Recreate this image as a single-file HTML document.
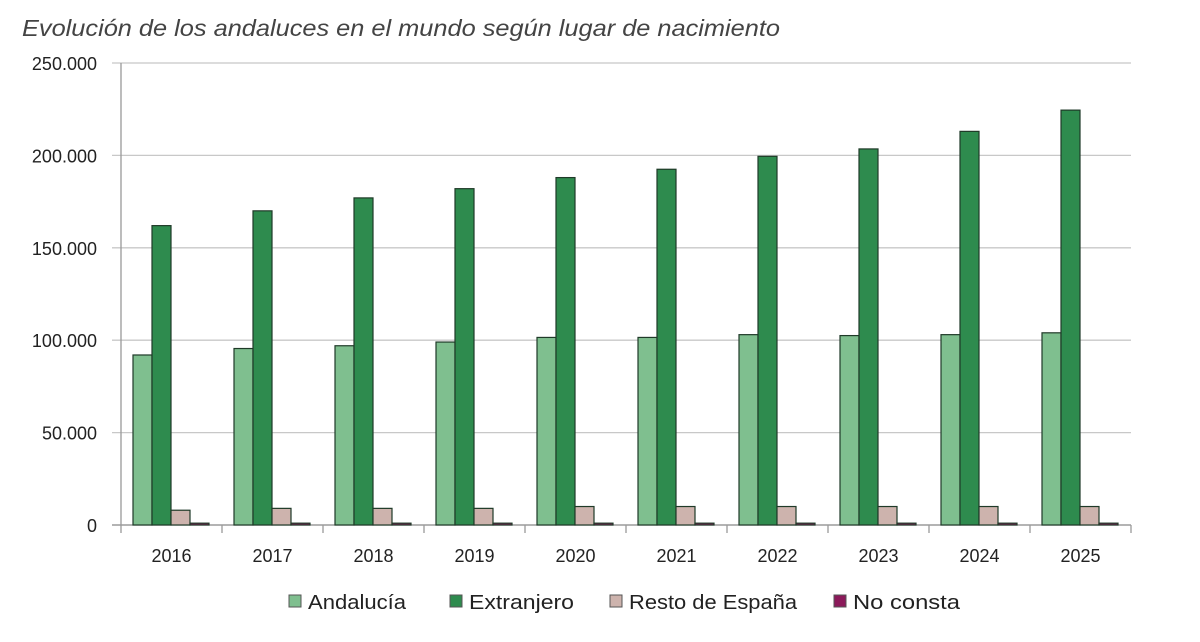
<!DOCTYPE html>
<html><head><meta charset="utf-8"><style>
body{margin:0;background:#fff;width:1200px;height:637px;overflow:hidden;font-family:"Liberation Sans",sans-serif}
</style></head><body>
<svg id="chart" width="1200" height="637">
<text x="22" y="36" font-size="23" font-style="italic" fill="#444" textLength="758" lengthAdjust="spacingAndGlyphs">Evolución de los andaluces en el mundo según lugar de nacimiento</text>
<g id="grid"></g><g id="bars"></g><g id="axes"></g><g id="legend"></g>
</svg>
<script>
const years=["2016","2017","2018","2019","2020","2021","2022","2023","2024","2025"];
const andalucia=[92000,95500,97000,99000,101500,101500,103000,102500,103000,104000];
const extranjero=[162000,170000,177000,182000,188000,192500,199500,203500,213000,224500];
const resto=[8000,9000,9000,9000,10000,10000,10000,10000,10000,10000];
const noConsta=[1000,1000,1000,1000,1000,1000,1000,1000,1000,1000];
const yTicks=[0,50000,100000,150000,200000,250000];
const yTickLabels=["0","50.000","100.000","150.000","200.000","250.000"];
const seriesNames=["Andalucía","Extranjero","Resto de España","No consta"];
const colors=["#7fbf8f","#2e8b4e","#cdb3ad","#8b1a5a"];
const NS="http://www.w3.org/2000/svg";
const x0=121,x1=1131,yBase=525,yTop=63,yMax=250000;
const gw=(x1-x0)/years.length;
const y=v=>yBase-(v/yMax)*(yBase-yTop);
const xg=i=>x0+i*gw;
function mk(t,a,p){const e=document.createElementNS(NS,t);for(const k in a)e.setAttribute(k,a[k]);p.appendChild(e);return e;}
const grid=document.getElementById('grid'),bars=document.getElementById('bars'),axes=document.getElementById('axes'),leg=document.getElementById('legend');
yTicks.forEach((v,i)=>{
  const l=mk('line',{x1:112,x2:x1,y1:y(v),y2:y(v),stroke:i==0?'#888':'#c8c8c8','stroke-width':1.3},grid);
  
  
  const t=mk('text',{x:97,y:y(v)+7,'text-anchor':'end','font-size':18,fill:'#222'},axes);
  t.textContent=yTickLabels[i];
  
  
});
mk('line',{x1:x0,x2:x0,y1:yTop,y2:yBase+8,stroke:'#999','stroke-width':1.3},axes);
const series=[andalucia,extranjero,resto,noConsta];
years.forEach((yr,i)=>{
  const tk=mk('line',{x1:xg(i+1),x2:xg(i+1),y1:yBase,y2:yBase+8,stroke:'#999','stroke-width':1.3},axes);
  
  
  const t=mk('text',{x:xg(i)+gw/2,y:562,'text-anchor':'middle','font-size':18,fill:'#222'},axes);
  t.textContent=yr;
  
  
  series.forEach((s,j)=>{
    const bx=xg(i)+12+j*19;
    const r=mk('rect',{x:bx,y:y(s[i]),width:19,height:yBase-y(s[i]),fill:colors[j],stroke:'#1f3a28','stroke-width':1.2},bars);
    
    
  });
});
const lx=[289,450,610,834];
const lw=[98,105,168,107];
seriesNames.forEach((n,j)=>{
  const r=mk('rect',{x:lx[j],y:595,width:12,height:12,fill:colors[j],stroke:'#555','stroke-width':1},leg);
  
  
  const t=mk('text',{x:lx[j]+19,y:609,'font-size':20,fill:'#222',textLength:lw[j],lengthAdjust:'spacingAndGlyphs'},leg);
  t.textContent=n;
  
  
});
</script>
</body></html>
